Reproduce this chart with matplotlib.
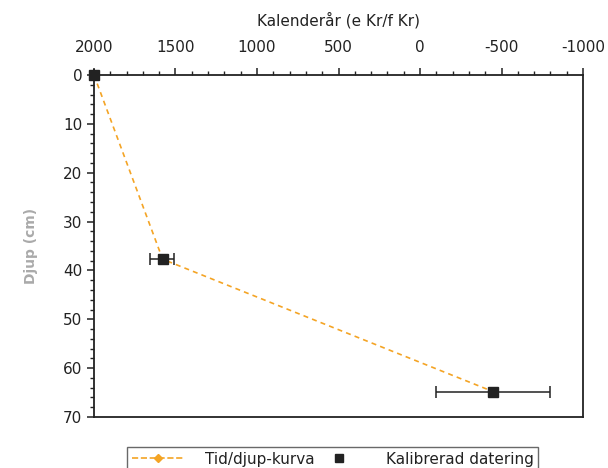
import matplotlib.pyplot as plt
from matplotlib.lines import Line2D
from matplotlib.ticker import MultipleLocator

# calendar years (AD positive / BC negative) and depths
years = [2000, 1579, -448]
depths = [0, 37.7, 64.8]
err_lo = [0, 76, 352]   # towards older (larger x value)
err_hi = [0, 72, 350]   # towards younger

x_ticks = [2000, 1500, 1000, 500, 0, -500, -1000]
y_ticks = [0, 10, 20, 30, 40, 50, 60, 70]

orange = "#f4a425"

fig = plt.figure(figsize=(6.08, 4.68), dpi=100)
ax = fig.add_axes([0.1546, 0.109, 0.8043, 0.7307])

ax.plot(years, depths, ls="--", color=orange, lw=1.2, dashes=(3, 2.5), zorder=2)
ax.errorbar(years, depths, xerr=[err_hi, err_lo], fmt="s", color="#222222",
            ms=6.5, ecolor="#222222", elinewidth=1.1, capsize=4.5, capthick=1.1,
            zorder=3, clip_on=False)

ax.set_xlim(2000, -1000)
ax.set_ylim(70, 0)
ax.set_xticks(x_ticks)
ax.set_xticklabels([str(v) for v in x_ticks])
ax.set_yticks(y_ticks)
ax.xaxis.set_minor_locator(MultipleLocator(100))
ax.yaxis.set_minor_locator(MultipleLocator(2))
ax.xaxis.tick_top()
ax.xaxis.set_label_position("top")

ax.tick_params(axis="both", which="major", direction="out", length=5, width=1.1,
               labelsize=11, colors="#222222", labelcolor="#222222")
ax.tick_params(axis="both", which="minor", direction="out", length=3, width=1.0,
               colors="#222222")
ax.tick_params(axis="x", pad=9.5)

for s in ax.spines.values():
    s.set_linewidth(1.3)
    s.set_color("#222222")

ax.set_xlabel("Kalenderår (e Kr/f Kr)", fontsize=11, labelpad=10.5, color="#222222")
ax.set_ylabel("Djup (cm)", fontsize=10, fontweight="bold", color="#aaaaaa",
              labelpad=18)

handles = [
    Line2D([], [], color=orange, ls="--", lw=1.2, marker="D", ms=4,
           markevery=[1], markerfacecolor=orange, markeredgecolor=orange),
    Line2D([], [], color="#222222", ls="none", marker="s", ms=6),
]
leg = fig.legend(handles, ["Tid/djup-kurva", "Kalibrerad datering"],
                 loc="upper left", bbox_to_anchor=(0.209, -0.01, 0.676, 0.055),
                 mode="expand", ncol=2, fontsize=11, frameon=True,
                 fancybox=False, edgecolor="#444444", borderpad=0.3,
                 borderaxespad=0, handlelength=3.5, handletextpad=1.3,
                 columnspacing=1.5)
leg.get_frame().set_linewidth(1.0)
for t in leg.get_texts():
    t.set_color("#222222")

fig.savefig("out.png", dpi=100)
